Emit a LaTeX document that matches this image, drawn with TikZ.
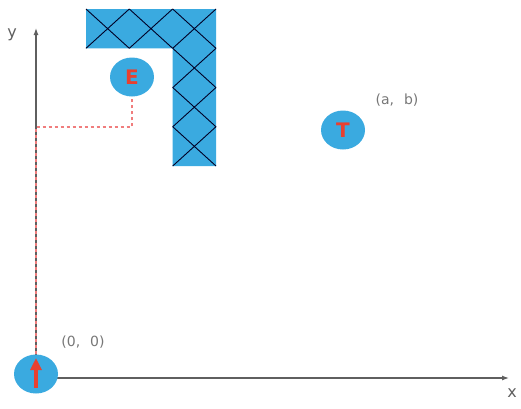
\documentclass[tikz,border=0pt]{standalone}
\usepackage{fontspec}
\setmainfont{DejaVu Sans}
\usepackage{xcolor}
\usepackage{tikz}
\usetikzlibrary{shapes,arrows,arrows.meta,positioning,calc}

\definecolor{wallblue}{RGB}{58,170,224}
\definecolor{markred}{RGB}{232,64,48}
\definecolor{pathred}{RGB}{240,125,125}
\definecolor{axisgray}{RGB}{95,95,95}

\begin{document}
\begin{tikzpicture}[
    x=1pt, y=-1pt,
    agent/.style={ellipse, fill=wallblue, minimum width=44pt, minimum height=39pt, inner sep=0pt, text=markred, font=\fontsize{20}{20}\selectfont\bfseries},
    coord/.style={text=axisgray!85, font=\fontsize{14}{14}\selectfont},
    axlabel/.style={text=axisgray, font=\fontsize{16}{16}\selectfont},
    axis/.style={axisgray, line width=1.2pt, -{Latex[length=7pt,width=5pt]}},
    wallline/.style={draw=black!85!blue, line width=0.9pt},
    route/.style={pathred, line width=1.1pt, dash pattern=on 3.5pt off 2.5pt}
]
\useasboundingbox (0,0) rectangle (521,408);

\coordinate (origin) at (36,378);
\coordinate (ytip) at (36,28);
\coordinate (xtip) at (509,378);
\coordinate (bend1) at (36,127);
\coordinate (bend2) at (132,127);

% wall
\fill[wallblue] (86,9) -- (216,9) -- (216,166) -- (172.7,166) -- (172.7,48.3) -- (86,48.3) -- cycle;
\foreach \cx/\cy in {86/9, 129.3/9, 172.7/9, 172.7/48.3, 172.7/87.5, 172.7/126.7}
    \draw[wallline] (\cx,\cy) -- ++(43.3,39.3) (\cx+43.3,\cy) -- ++(-43.3,39.3);

\draw[axis] (origin) -- (ytip);
\draw[axis] (origin) -- (xtip);
\node[axlabel] (ylab) at (12,35) {y};
\node[axlabel] (xlab) at (512,393) {x};

\node[agent] (robot) at (36,374) {};
\node[agent] (enemy) at (132,77) {E};
\node[agent] (target) at (343,130) {T};

\draw[route] (robot.north) -- (bend1) -- (bend2) -- (enemy.south);
\draw[markred, line width=4pt, -{Triangle[length=12pt,width=11pt]}] ($(robot.center)+(0,14)$) -- ($(robot.center)+(0,-16)$);

\node[coord] (tlab) at (397,100) {(a,\hspace{10pt}b)};
\node[coord] (olab) at (83,342) {(0,\hspace{10pt}0)};

\end{tikzpicture}
\end{document}
